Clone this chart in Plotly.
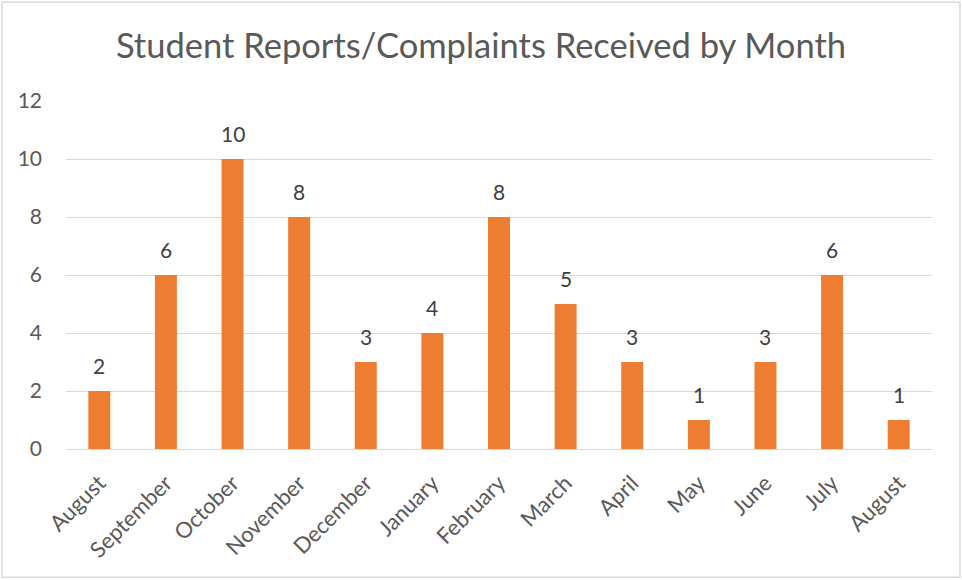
import plotly.graph_objects as go

months = ["August", "September", "October", "November", "December", "January",
          "February", "March", "April", "May", "June", "July", "August"]
counts = [2, 6, 10, 8, 3, 4, 8, 5, 3, 1, 3, 6, 1]
y_ticks = [0, 2, 4, 6, 8, 10, 12]
title_text = "Student Reports/Complaints Received by Month"

positions = list(range(len(months)))

FONT = "Lato, Open Sans, sans-serif"

fig = go.Figure(go.Bar(
    x=positions,
    y=counts,
    marker=dict(color="#ED7D31", line=dict(width=0)),
    hoverinfo="skip",
))

L, R, T, B = 66, 30, 101, 130.5
W, H = 962, 580
pw = W - L - R
ph = H - T - B

annotations = [
    dict(x=xp, y=v, xref="x", yref="y", text=str(v), showarrow=False,
         yanchor="bottom", yshift=11,
         font=dict(family=FONT, size=21, color="#404040"))
    for xp, v in zip(positions, counts)
]

fig.update_layout(
    width=W, height=H,
    margin=dict(l=L, r=R, t=T, b=B, pad=0),
    paper_bgcolor="white", plot_bgcolor="white",
    bargap=0.67,
    showlegend=False,
    title=dict(text=title_text, x=0.5, xanchor="center", xref="container",
               y=1 - 46 / H, yanchor="middle",
               font=dict(family=FONT, size=34.5, color="#595959")),
    xaxis=dict(
        tickmode="array", tickvals=positions, ticktext=months,
        range=[-0.5, len(months) - 0.5],
        tickangle=-45, showgrid=False, showline=False, zeroline=False,
        ticks="", ticklabelstandoff=16,
        tickfont=dict(family=FONT, size=22, color="#595959"),
    ),
    yaxis=dict(
        tickmode="array", tickvals=y_ticks, range=[0, 12],
        showgrid=True, gridcolor="#D9D9D9", gridwidth=1,
        zeroline=True, zerolinecolor="#D9D9D9", zerolinewidth=1,
        showline=False, ticks="", ticklabelstandoff=23,
        tickfont=dict(family=FONT, size=21, color="#595959"),
    ),
    annotations=annotations,
    shapes=[dict(
        type="rect", xref="paper", yref="paper",
        x0=(2 - L) / pw, x1=(960 - L) / pw,
        y0=(H - B - 578) / ph, y1=(H - B - 2) / ph,
        line=dict(color="#D9D9D9", width=1.5), fillcolor="rgba(0,0,0,0)",
        layer="below",
    )],
)

fig.write_html("out.html", config={"displayModeBar": False},
               post_script="document.body.style.margin='0';")
